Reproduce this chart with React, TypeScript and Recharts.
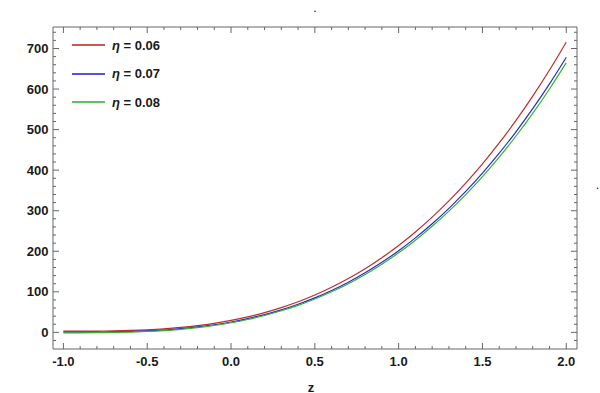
import { LineChart, Line, XAxis, YAxis, Legend } from "recharts";

// z grid, step 0.1
const zValues = [
  -1, -0.9, -0.8, -0.7, -0.6, -0.5, -0.4, -0.3, -0.2, -0.1, 0, 0.1, 0.2, 0.3,
  0.4, 0.5, 0.6, 0.7, 0.8, 0.9, 1, 1.1, 1.2, 1.3, 1.4, 1.5, 1.6, 1.7, 1.8, 1.9,
  2,
];

const eta006 = [
  3, 3.0, 3.2, 3.7, 4.7, 6.3, 8.7, 12.1, 16.5, 22.2, 29.4, 38.1, 48.6, 61.0,
  75.4, 92.1, 111.1, 132.7, 157.0, 184.1, 214.2, 247.5, 284.1, 324.2, 368.0,
  415.5, 467.0, 522.6, 582.5, 646.9, 715.8,
];

const eta007 = [
  0.5, 0.5, 0.7, 1.2, 2.1, 3.6, 5.9, 9.1, 13.4, 18.8, 25.6, 33.9, 43.9, 55.6,
  69.4, 85.2, 103.3, 123.8, 146.9, 172.7, 201.3, 233.0, 267.8, 305.9, 347.5,
  392.7, 441.7, 494.6, 551.5, 612.7, 678.2,
];

const eta008 = [
  -1, -1.0, -0.8, -0.3, 0.6, 2.1, 4.3, 7.5, 11.6, 17.0, 23.7, 31.8, 41.6, 53.2,
  66.6, 82.2, 100.0, 120.1, 142.8, 168.1, 196.2, 227.3, 261.5, 298.9, 339.8,
  384.2, 432.2, 484.2, 540.1, 600.2, 664.6,
];

const seriesNames = ["0.06", "0.07", "0.08"];
const seriesColors = ["#c42a2a", "#2a2ac8", "#2fb52f"];

// tick positions (minor + major)
const xTicks = [
  -1, -0.9, -0.8, -0.7, -0.6, -0.5, -0.4, -0.3, -0.2, -0.1, 0, 0.1, 0.2, 0.3,
  0.4, 0.5, 0.6, 0.7, 0.8, 0.9, 1, 1.1, 1.2, 1.3, 1.4, 1.5, 1.6, 1.7, 1.8, 1.9,
  2,
];
const yTicks = [
  -20, 0, 20, 40, 60, 80, 100, 120, 140, 160, 180, 200, 220, 240, 260, 280, 300,
  320, 340, 360, 380, 400, 420, 440, 460, 480, 500, 520, 540, 560, 580, 600,
  620, 640, 660, 680, 700, 720, 740,
];

const data = zValues.map((z, i) => ({
  z,
  a: eta006[i],
  b: eta007[i],
  c: eta008[i],
}));

const frame = "#666666";
const labelFont = "'Liberation Sans', Arial, sans-serif";

const isMajorX = (v: number) => Math.abs(v * 2 - Math.round(v * 2)) < 1e-6;
const isMajorY = (v: number) => v % 100 === 0;

const BottomTick = (props: any) => {
  const { x, y, payload } = props;
  const v = payload.value;
  const major = isMajorX(v);
  return (
    <g>
      <line x1={x} x2={x} y1={y} y2={y - (major ? 6 : 3)} stroke={frame} />
      {major && (
        <text
          x={x}
          y={y + 17}
          textAnchor="middle"
          fontFamily={labelFont}
          fontWeight="bold"
          fontSize={13}
          fill="#1a1a1a"
        >
          {v.toFixed(1)}
        </text>
      )}
    </g>
  );
};

const TopTick = (props: any) => {
  const { x, y, payload } = props;
  const major = isMajorX(payload.value);
  return <line x1={x} x2={x} y1={y} y2={y + (major ? 6 : 3)} stroke={frame} />;
};

const LeftTick = (props: any) => {
  const { x, y, payload } = props;
  const v = payload.value;
  const major = isMajorY(v);
  return (
    <g>
      <line x1={x} x2={x + (major ? 6 : 3)} y1={y} y2={y} stroke={frame} />
      {major && (
        <text
          x={x - 4.5}
          y={y + 4.6}
          textAnchor="end"
          fontFamily={labelFont}
          fontWeight="bold"
          fontSize={13}
          fill="#1a1a1a"
        >
          {v}
        </text>
      )}
    </g>
  );
};

const RightTick = (props: any) => {
  const { x, y, payload } = props;
  const major = isMajorY(payload.value);
  return <line x1={x} x2={x - (major ? 6 : 3)} y1={y} y2={y} stroke={frame} />;
};

const LegendBox = () => (
  <div style={{ fontFamily: labelFont }}>
    {seriesNames.map((name, i) => (
      <div
        key={name}
        style={{ display: "flex", alignItems: "center", height: 28.5 }}
      >
        <span
          style={{
            display: "inline-block",
            width: 33,
            height: 2,
            background: seriesColors[i],
            opacity: 0.8,
            marginRight: 7,
          }}
        />
        <span style={{ fontSize: 13, fontWeight: "bold", color: "#1a1a1a" }}>
          <i>η</i> = {name}
        </span>
      </div>
    ))}
  </div>
);

export default function App() {
  return (
    <div style={{ position: "absolute", left: 0, top: 0, background: "#fff" }}>
      <LineChart
        width={600}
        height={393}
        data={data}
        margin={{ top: 26, right: 22, bottom: 0, left: 0 }}
      >
        <XAxis
          dataKey="z"
          type="number"
          domain={[-1.062, 2.064]}
          allowDataOverflow
          ticks={xTicks}
          interval={0}
          height={44}
          tickSize={0}
          tickMargin={0}
          tickLine={false}
          tick={BottomTick}
          stroke={frame}
          label={{
            value: "z",
            position: "insideBottom",
            offset: 1,
            dx: -4,
            fontFamily: labelFont,
            fontWeight: "bold",
            fontSize: 13,
            fill: "#1a1a1a",
          }}
        />
        <XAxis
          xAxisId="top"
          dataKey="z"
          orientation="top"
          type="number"
          domain={[-1.062, 2.064]}
          allowDataOverflow
          ticks={xTicks}
          interval={0}
          height={1}
          tickSize={0}
          tickMargin={0}
          tickLine={false}
          tick={TopTick}
          stroke={frame}
          label={{
            value: ".",
            position: "top",
            offset: 14,
            fontSize: 12,
            fill: "#000",
          }}
        />
        <YAxis
          type="number"
          domain={[-41, 753]}
          allowDataOverflow
          ticks={yTicks}
          interval={0}
          width={53}
          tickSize={0}
          tickMargin={0}
          tickLine={false}
          tick={LeftTick}
          stroke={frame}
        />
        <YAxis
          yAxisId="right"
          orientation="right"
          type="number"
          domain={[-41, 753]}
          allowDataOverflow
          ticks={yTicks}
          interval={0}
          width={1}
          tickSize={0}
          tickMargin={0}
          tickLine={false}
          tick={RightTick}
          stroke={frame}
          label={{
            value: ".",
            position: "right",
            offset: 18,
            dy: -3,
            fontSize: 12,
            fill: "#000",
          }}
        />
        <Legend
          layout="horizontal"
          verticalAlign="middle"
          align="center"
          content={LegendBox}
          wrapperStyle={{ left: 72, top: 30.75, width: "auto" }}
        />
        <Line
          type="monotone"
          dataKey="a"
          name="η = 0.06"
          stroke={seriesColors[0]}
          strokeWidth={1.2}
          dot={false}
          isAnimationActive={false}
        />
        <Line
          type="monotone"
          dataKey="b"
          name="η = 0.07"
          stroke={seriesColors[1]}
          strokeWidth={1.2}
          dot={false}
          isAnimationActive={false}
        />
        <Line
          type="monotone"
          dataKey="c"
          name="η = 0.08"
          stroke={seriesColors[2]}
          strokeWidth={1.2}
          dot={false}
          isAnimationActive={false}
        />
        {/* invisible series that ties the top and right frame axes */}
        <Line
          xAxisId="top"
          yAxisId="right"
          dataKey="c"
          stroke="none"
          strokeWidth={0}
          dot={false}
          activeDot={false}
          legendType="none"
          isAnimationActive={false}
        />
      </LineChart>
    </div>
  );
}
